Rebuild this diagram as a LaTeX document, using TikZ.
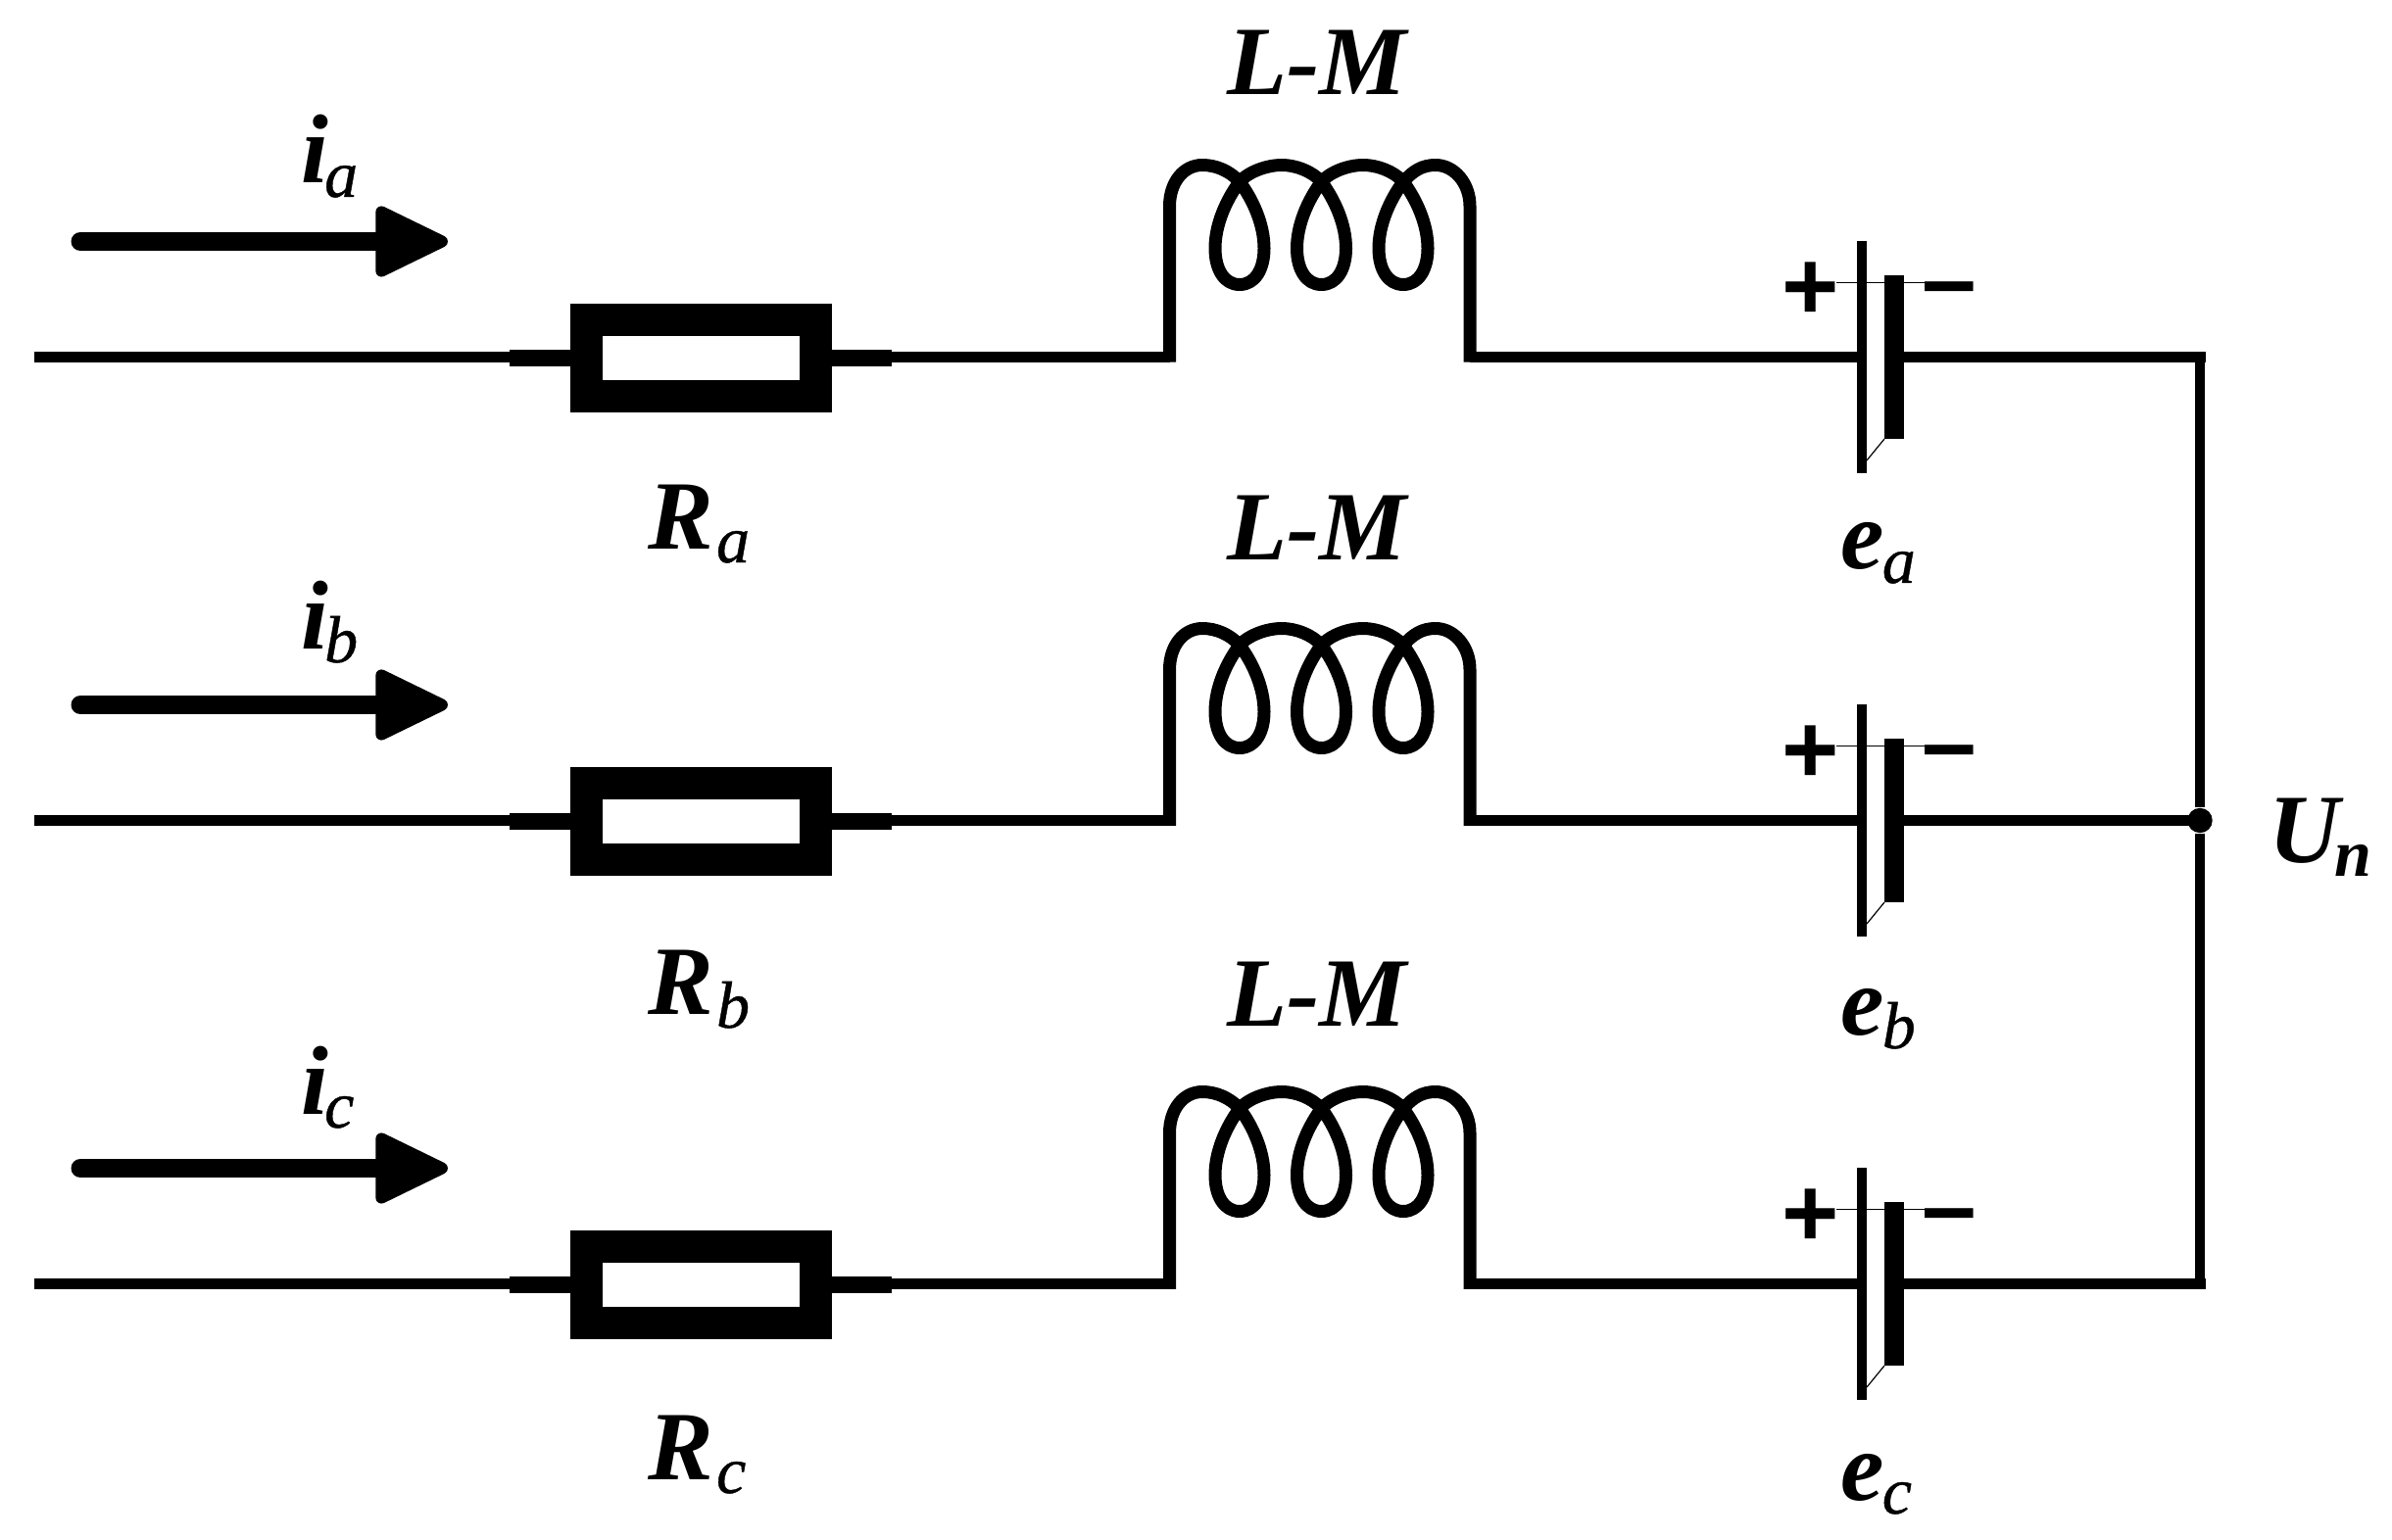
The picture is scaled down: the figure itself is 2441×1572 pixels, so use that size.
\documentclass[tikz,border=0pt]{standalone}
\usepackage{fontspec}
\setmainfont{Liberation Serif}
\newfontfamily\signfont{Liberation Sans}
\usetikzlibrary{arrows.meta}
\newcommand{\lab}[3]{{\bfseries\itshape #1}\kern#3pt\raisebox{-7pt}{\fontsize{34pt}{0}\selectfont\itshape\addfontfeature{FakeBold=.6}#2}}

\begin{document}
\begin{tikzpicture}[x=.5pt,y=-.5pt,font=\fontsize{50pt}{0}\selectfont,
    wire/.style={line width=5.25pt},
    stub/.style={line width=8.5pt},
    hair/.style={line width=.6pt},
    res/.style={draw,line width=16.5pt,minimum width=117pt,minimum height=39pt,inner sep=0pt},
    lbl/.style={anchor=base west,inner sep=0pt},
    sign/.style={anchor=base,inner sep=0pt,font=\fontsize{50pt}{0}\selectfont\signfont\bfseries},
    current/.style={line width=9.5pt,line cap=round,
        -{Triangle[length=41pt,width=38pt,line width=6pt,round]}},
    coil/.pic={
      \coordinate (-in) at (0,0);
      \coordinate (-out) at (306.5,0);
      \draw[line width=6.5pt,line join=round] (0,5.25) -- (0,-154) .. controls (0,-178) and (14,-196) .. (33.5,-196)
        foreach \t/\x/\m in {33.5/71.5/114.5,114.5/155/197.5,197.5/238.5/271.5}{
          .. controls (\t+14,-196) and (\x-10,-190) .. (\x,-179)
          .. controls (\x+14,-160) and (\x+25,-135) .. (\x+25,-111)
          .. controls (\x+25,-90) and (\x+16,-74) .. (\x,-74)
          .. controls (\x-16,-74) and (\x-25,-90) .. (\x-25,-111)
          .. controls (\x-25,-135) and (\x-14,-160) .. (\x,-179)
          .. controls (\x+10,-190) and (\m-14,-196) .. (\m,-196)}
        .. controls (290,-196) and (306.5,-178) .. (306.5,-154) -- (306.5,5.25);
    }]
  \useasboundingbox (0,0) rectangle (2441,1572);
  \foreach \n/\y/\k in {a/364.5/0,b/837.5/2,c/1310.5/4}{
    \coordinate (in\n) at (35,\y);
    \coordinate (sl\n) at (520,\y+1);
    \coordinate (sr\n) at (910,\y+1);
    \coordinate (wl\n) at (520,\y);
    \coordinate (wr\n) at (910,\y);
    \coordinate (cl\n) at (1900,\y);
    \coordinate (cr\n) at (1933,\y);
    \coordinate (end\n) at (2250.5,\y);
    \coordinate (ic\n) at (82,\y-118);
    \coordinate (id\n) at (457,\y-118);
    \node[res] (R\n) at (715,\y+1) {};
    \pic (L\n) at (1193.5,\y) {coil};
    \draw[wire] (in\n) -- (wl\n);
    \draw[stub] (sl\n) -- (R\n.west);
    \draw[stub] (R\n.east) -- (sr\n);
    \draw[wire] (wr\n) -- (L\n-in);
    \draw[wire] (L\n-out) -- (cl\n);
    \draw[wire] (cr\n) -- (end\n);
    \draw[line width=5pt] (1900,\y-118.5) -- (1900,\y+118.5);
    \draw[line width=10pt] (1933,\y-83.5) -- (1933,\y+83.5);
    \draw[hair] (1923,\y+83.5) -- (1905,\y+105.5);
    \node[sign] (p\n) at (1848,\y-38) {+};
    \node[sign] (m\n) at (1989.5,\y-45) {–};
    \draw[hair] (1874,\y-76) -- (1965,\y-76);
    \draw[current] (ic\n) -- (id\n);
    \node[lbl] (i\n) at (307,\y+\k-177.5) {\lab{i}{\n}{-2}};
    \node[lbl] (rl\n) at (661,\y+\k+195.5) {\lab{R}{\n}{1.5}};
    \node[lbl] (e\n) at (1878,\y+\k+216.5) {\lab{e}{\n}{-1}};
    \node[lbl,anchor=base] (lm\n) at (1345.5,\y+\k-267.5) {\textbf{\textit{L-M}}};
  }
  \coordinate (top) at (2245,359.5);
  \coordinate (bot) at (2245,1316);
  \node[circle,fill,inner sep=0pt,minimum size=12.7pt] (Un) at (2245,837.5) {};
  \draw[wire,line width=5pt] (top) -- (Un) -- (bot);
  \node[lbl] (Ut) at (2315,880) {{\bfseries\itshape U}\kern-2.5pt\raisebox{-7pt}{\fontsize{34pt}{0}\selectfont\bfseries\itshape n}};
\end{tikzpicture}
\end{document}
